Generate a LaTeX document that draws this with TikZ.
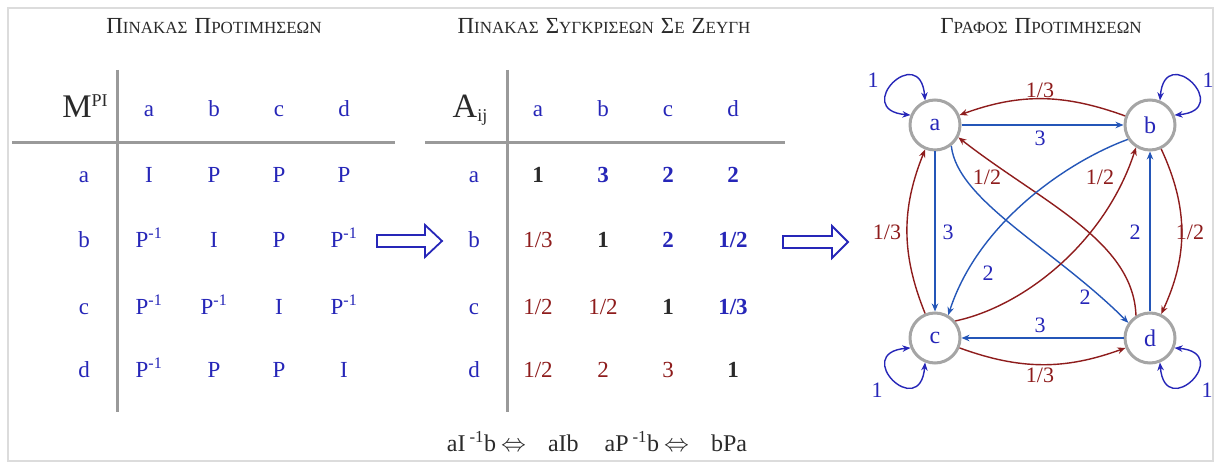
\documentclass[tikz,border=0pt]{standalone}
\usepackage{fontspec}
\setmainfont{Liberation Serif}
\usetikzlibrary{arrows.meta}
\definecolor{tblue}{HTML}{2626B8}
\definecolor{eblue}{HTML}{2456B8}
\definecolor{ered}{HTML}{8E1C1C}
\definecolor{lgray}{HTML}{9A9A9A}
\definecolor{ngray}{HTML}{A5A5A5}
\definecolor{fgray}{HTML}{DCDCDC}
\definecolor{tdark}{HTML}{2A2A2A}
\newcommand\gsc[2]{{\fontsize{23}{23}\selectfont #1}{\fontsize{17}{17}\selectfont #2}}
\newcommand\gsp{\hspace{7pt}}
\newcommand\Pinv{P\textsuperscript{-1}}
\begin{document}
\begin{tikzpicture}[x=1pt,y=1pt,
  ttl/.style={text=tdark, anchor=base, inner sep=0pt},
  cell/.style={inner sep=0pt, anchor=base, text=tblue, font=\fontsize{23}{23}\selectfont},
  bk/.style={cell, text=tdark, font=\fontsize{23}{23}\selectfont\bfseries},
  bb/.style={cell, text=tblue, font=\fontsize{23}{23}\selectfont\bfseries},
  rd/.style={cell, text=ered},
  tline/.style={draw=lgray, line width=3pt},
  barrow/.style={draw=tblue, line width=1.8pt, fill=white, line join=miter},
  gnode/.style={circle, draw=ngray, line width=3pt, minimum size=50pt, inner sep=0pt, fill=white, text=tblue, font=\fontsize{24}{24}\selectfont},
  be/.style={draw=eblue, line width=1.4pt, -{Stealth[length=8pt,width=6.5pt]}},
  re/.style={draw=ered, line width=1.4pt, -{Stealth[length=8pt,width=6.5pt]}},
  lp/.style={draw=tblue, line width=1.4pt, {Stealth[length=8pt,width=6.5pt]}-{Stealth[length=8pt,width=6.5pt]}},
  bl/.style={text=tblue, inner sep=0pt, font=\fontsize{22}{22}\selectfont},
  rl/.style={text=ered, inner sep=0pt, font=\fontsize{22}{22}\selectfont}
]
\useasboundingbox (0,0) rectangle (1216,463);
\fill[white] (0,0) rectangle (1216,463);
\draw[fgray, line width=2pt] (8,2) rectangle (1213,455);

% titles
\node[ttl] (t1) at (214,429) {\gsc{Π}{ΙΝΑΚΑΣ}\gsp\gsc{Π}{ΡΟΤΙΜΗΣΕΩΝ}};
\node[ttl] (t2) at (604,429) {\gsc{Π}{ΙΝΑΚΑΣ}\gsp\gsc{Σ}{ΥΓΚΡΙΣΕΩΝ}\gsp\gsc{Σ}{Ε}\gsp\gsc{Ζ}{ΕΥΓΗ}};
\node[ttl] (t3) at (1041,429) {\gsc{Γ}{ΡΑΦΟΣ}\gsp\gsc{Π}{ΡΟΤΙΜΗΣΕΩΝ}};

% ---------- table 1 ----------
\draw[tline] (117,393) -- (117,51);
\draw[tline] (12,320) -- (395,320);
\node[cell, text=tdark, font=\fontsize{33}{33}\selectfont] (m) at (85,345) {M\raisebox{11pt}{\fontsize{18}{18}\selectfont PI}};
\node[cell] (h1a) at (149,346) {a};
\node[cell] (h1b) at (214,346) {b};
\node[cell] (h1c) at (279,346) {c};
\node[cell] (h1d) at (344,346) {d};
\node[cell] (r1a) at (84,280) {a};
\node[cell] (r1b) at (84,215) {b};
\node[cell] (r1c) at (84,148) {c};
\node[cell] (r1d) at (84,85) {d};
% row a
\node[cell] (p11) at (149,280) {I};
\node[cell] (p12) at (214,280) {P};
\node[cell] (p13) at (279,280) {P};
\node[cell] (p14) at (344,280) {P};
% row b
\node[cell] (p21) at (149,215) {\Pinv};
\node[cell] (p22) at (214,215) {I};
\node[cell] (p23) at (279,215) {P};
\node[cell] (p24) at (344,215) {\Pinv};
% row c
\node[cell] (p31) at (149,148) {\Pinv};
\node[cell] (p32) at (214,148) {\Pinv};
\node[cell] (p33) at (279,148) {I};
\node[cell] (p34) at (344,148) {\Pinv};
% row d
\node[cell] (p41) at (149,85) {\Pinv};
\node[cell] (p42) at (214,85) {P};
\node[cell] (p43) at (279,85) {P};
\node[cell] (p44) at (344,85) {I};

% block arrow 1
\draw[barrow] (377,228) -- (425,228) -- (425,238) -- (442,222) -- (425,206) -- (425,216) -- (377,216) -- cycle;

% ---------- table 2 ----------
\draw[tline] (507,393) -- (507,51);
\draw[tline] (425,320) -- (785,320);
\node[cell, text=tdark, font=\fontsize{34}{34}\selectfont] (aij) at (470,345) {A\raisebox{-4pt}{\fontsize{18}{18}\selectfont ij}};
\node[cell] (h2a) at (538,346) {a};
\node[cell] (h2b) at (603,346) {b};
\node[cell] (h2c) at (668,346) {c};
\node[cell] (h2d) at (733,346) {d};
\node[cell] (r2a) at (474,280) {a};
\node[cell] (r2b) at (474,215) {b};
\node[cell] (r2c) at (474,148) {c};
\node[cell] (r2d) at (474,85) {d};
% row a
\node[bk] (q11) at (538,280) {1};
\node[bb] (q12) at (603,280) {3};
\node[bb] (q13) at (668,280) {2};
\node[bb] (q14) at (733,280) {2};
% row b
\node[rd] (q21) at (538,215) {1/3};
\node[bk] (q22) at (603,215) {1};
\node[bb] (q23) at (668,215) {2};
\node[bb] (q24) at (733,215) {1/2};
% row c
\node[rd] (q31) at (538,148) {1/2};
\node[rd] (q32) at (603,148) {1/2};
\node[bk] (q33) at (668,148) {1};
\node[bb] (q34) at (733,148) {1/3};
% row d
\node[rd] (q41) at (538,85) {1/2};
\node[rd] (q42) at (603,85) {2};
\node[rd] (q43) at (668,85) {3};
\node[bk] (q44) at (733,85) {1};

\node[cell, text=tdark, font=\fontsize{24}{24}\selectfont] (foot) at (597,11)
  {aI\,\textsuperscript{-1}b\hspace{5pt}$\Leftrightarrow$\hspace{22pt}aIb\hspace{26pt}aP\,\textsuperscript{-1}b\hspace{5pt}$\Leftrightarrow$\hspace{22pt}bPa};

% block arrow 2
\draw[barrow] (783,227) -- (832,227) -- (832,237) -- (848,221) -- (832,205) -- (832,215) -- (783,215) -- cycle;

% ---------- graph ----------
\node[gnode] (a) at (935,338) {a};
\node[gnode] (b) at (1150,338) {b};
\node[gnode] (c) at (935,125) {c};
\node[gnode] (d) at (1150,125) {d};

% straight blue edges
\draw[be] (a) -- (b);
\draw[be] (a) -- (c);
\draw[be] (d) -- (b);
\draw[be] (d) -- (c);
% red curved reverse edges
\draw[re] (b.160) to[out=160,in=20] (a.22);
\draw[re] (c.112) to[out=112,in=-112] (a.-112);
\draw[re] (b.-65) to[out=-65,in=65] (d.65);
\draw[re] (c.-22) to[out=-20,in=-160] (d.-158);
% diagonals
\draw[be] (a.-52) .. controls +(-84:55) and +(135:105) .. (d.145);
\draw[re] (d.122) .. controls +(92:75) and +(-38:105) .. (a.-28);
\draw[be] (b.-147) .. controls +(200:60) and +(72:100) .. (c.60);
\draw[re] (c.40) .. controls +(12:70) and +(-108:100) .. (b.-122);
% self loops
\draw[lp] (a.158) .. controls +(175:60) and +(95:60) .. (a.112);
\draw[lp] (b.22) .. controls +(5:60) and +(85:60) .. (b.68);
\draw[lp] (c.-158) .. controls +(-175:60) and +(-95:60) .. (c.-112);
\draw[lp] (d.-22) .. controls +(-5:60) and +(-85:60) .. (d.-68);

% edge labels
\node[rl] (lba) at (1040,373) {1/3};
\node[bl] (lab) at (1040,325) {3};
\node[rl] (lca) at (887,231) {1/3};
\node[bl] (lac) at (948,231) {3};
\node[bl] (ldb) at (1135,231) {2};
\node[rl] (lbd) at (1190,231) {1/2};
\node[bl] (ldc) at (1040,138) {3};
\node[rl] (lcd) at (1040,88) {1/3};
\node[rl] (lda) at (987,286) {1/2};
\node[rl] (lcb) at (1100,286) {1/2};
\node[bl] (lbc) at (988,190) {2};
\node[bl] (lad) at (1085,166) {2};
\node[bl] (laa) at (873,383) {1};
\node[bl] (lbb) at (1208,383) {1};
\node[bl] (lcc) at (877,73) {1};
\node[bl] (ldd) at (1207,73) {1};
\end{tikzpicture}
\end{document}
